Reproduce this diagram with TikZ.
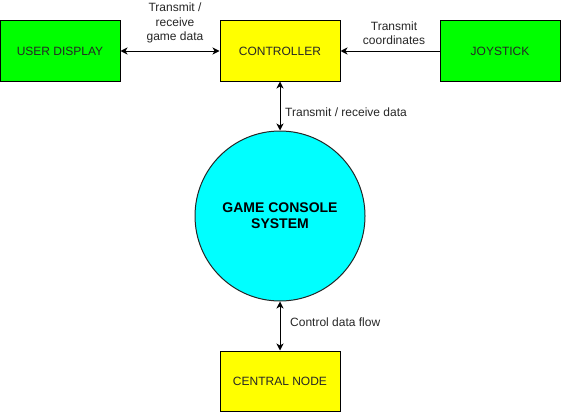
\documentclass[tikz,border=0pt]{standalone}
\usepackage{fontspec}
\setmainfont{Liberation Sans}
\usetikzlibrary{arrows.meta}
\definecolor{boxgreen}{RGB}{0,255,0}
\definecolor{boxyellow}{RGB}{255,255,0}
\definecolor{circcyan}{RGB}{0,255,255}
\tikzset{
  blockbox/.style={draw=black, line width=1pt, minimum width=120pt, minimum height=60pt, inner sep=0pt, font=\fontsize{12}{14}\selectfont, text=black!85},
  greenbox/.style={blockbox, fill=boxgreen},
  yellowbox/.style={blockbox, fill=boxyellow},
  bigcircle/.style={circle, draw=black!85, line width=1pt, fill=circcyan, minimum size=170pt, inner sep=0pt, align=center, font=\fontsize{14}{16}\selectfont\bfseries},
  flowlabel/.style={align=center, inner sep=0pt, font=\fontsize{12}{14.5}\selectfont, text=black!85},
  conn/.style={line width=1pt, draw=black},
  tip/.tip={Stealth[length=7pt, width=7pt, inset=2pt]}
}
\begin{document}
\begin{tikzpicture}[x=1pt, y=-1pt]
\path[use as bounding box] (0,0) rectangle (561,412);
\node[greenbox] (display) at (60,51) {USER DISPLAY};
\node[yellowbox] (ctrl) at (280,51) {CONTROLLER};
\node[greenbox] (joy) at (500,51) {JOYSTICK};
\node[bigcircle] (console) at (280,216) {GAME CONSOLE\\SYSTEM};
\node[yellowbox] (central) at (280,381) {CENTRAL NODE};

\draw[conn, tip-tip] (display.east) -- (ctrl.west);
\draw[conn, -tip] (joy.west) -- (ctrl.east);
\draw[conn, tip-tip] (ctrl.south) -- (console.north);
\draw[conn, tip-tip] (console.south) -- (central.north);

\node[flowlabel] (lbl1) at (175,23) {Transmit /\\receive\\game data};
\node[flowlabel] (lbl2) at (394,33) {Transmit\\coordinates};
\node[flowlabel, anchor=west] (lbl3) at (285,112) {Transmit / receive data};
\node[flowlabel, anchor=west] (lbl4) at (290,322) {Control data flow};
\end{tikzpicture}
\end{document}
